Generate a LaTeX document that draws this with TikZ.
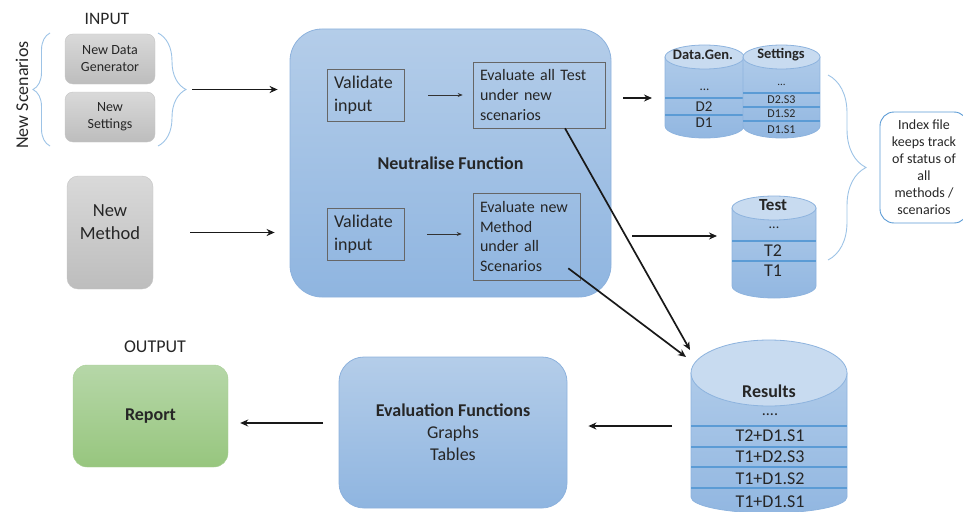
\documentclass[tikz,border=0pt]{standalone}
\usepackage{fontspec}
\setmainfont{Carlito}
\usetikzlibrary{arrows.meta,decorations.pathreplacing,calc}
\definecolor{txt}{HTML}{262626}
\definecolor{btop}{HTML}{B4CDE9}
\definecolor{bbot}{HTML}{8FB5E0}
\definecolor{bborder}{HTML}{8DB2DD}
\definecolor{gtop}{HTML}{D9D9D9}
\definecolor{gbot}{HTML}{BDBDBD}
\definecolor{gborder}{HTML}{C4C4C4}
\definecolor{rtop}{HTML}{B6D7A8}
\definecolor{rbot}{HTML}{97C67E}
\definecolor{rborder}{HTML}{A8CF95}
\definecolor{ctop}{HTML}{AECAE9}
\definecolor{cbot}{HTML}{92B7E1}
\definecolor{cend}{HTML}{C8DBF0}
\definecolor{cborder}{HTML}{8DB3DE}
\definecolor{cline}{HTML}{5B9BD5}
\definecolor{bracec}{HTML}{9DC3E6}
\definecolor{ixb}{HTML}{5B9BD5}
\newcommand\fs[2]{\fontsize{#1}{#2}\selectfont}
\newcommand\dbcyl[7]{%
  \pgfmathsetmacro\cyA{(#2+#3)/2}%
  \pgfmathsetmacro\cyR{(#3-#2)/2}%
  \pgfmathsetmacro\cyK{0.5523*\cyR}%
  \pgfmathsetmacro\cyL{0.5523*#7}%
  \path[cylbody] (#2,#4) -- (#2,#5) .. controls (#2,#5+\cyL) and (\cyA-\cyK,#5+#7) .. (\cyA,#5+#7) .. controls (\cyA+\cyK,#5+#7) and (#3,#5+\cyL) .. (#3,#5) -- (#3,#4) -- cycle;
  \path[cyltop] (\cyA,#4) ellipse [x radius=\cyR pt, y radius=#6pt];
  \coordinate (#1) at (\cyA,#4);
}
\tikzset{
  lbl/.style={text=txt, font=\fs{17.5}{21}},
  gbox/.style={draw=gborder, top color=gtop, bottom color=gbot, rounded corners=8pt, text=txt, align=center},
  bbox/.style={draw=bborder, line width=0.8pt, top color=btop, bottom color=bbot, rounded corners=32pt, text=txt, align=center},
  rbox/.style={draw=rborder, top color=rtop, bottom color=rbot, rounded corners=14pt, text=txt, font=\bfseries\fs{18}{22}},
  ibox/.style={draw=black!60, line width=0.6pt, align=left, inner sep=0pt, inner xsep=7pt, text=txt},
  arr/.style={draw=black!90, line width=1.7pt, -{Stealth[length=8pt,width=7pt]}},
  sarr/.style={draw=black!80, line width=0.6pt, -{Stealth[length=5pt,width=4pt]}},
  brc/.style={draw=bracec, line width=0.9pt, decorate, decoration={brace, amplitude=#1}},
  cylbody/.style={draw=cborder, line width=0.8pt, top color=ctop, bottom color=cbot},
  cyltop/.style={draw=cborder, line width=0.8pt, fill=cend},
  cylline/.style={draw=cline, line width=1.1pt},
  ctxt/.style={text=txt, inner sep=0pt},
}
\begin{document}
\begin{tikzpicture}[x=1pt,y=-1pt]
\useasboundingbox (0,0) rectangle (963,511);
\clip (0,0) rectangle (963,511);
% ---------- inputs
\node[lbl] (inlbl) at (107,19) {INPUT};
\node[lbl, rotate=90, font=\fs{18}{21}] (nsc) at (22,95) {New Scenarios};
\node[gbox, minimum width=90pt, minimum height=50pt, font=\fs{14}{17}] (ndg) at (110,59) {New Data\\Generator};
\node[gbox, minimum width=90pt, minimum height=50pt, font=\fs{14}{17}] (nst) at (110,117) {New\\Settings};
\draw[brc=17] (50,146) -- (50,33);
\draw[brc=28] (158,33) -- (158,146);
\coordinate (inbr) at (186,89.5);
\node[gbox, rounded corners=11pt, minimum width=86pt, minimum height=113pt] (nm) at (110,232.5) {};
\node[text=txt, align=center, font=\fs{18.5}{22.5}] (nmt) at (110,222) {New\\Method};
% ---------- neutralise
\node[bbox, minimum width=321pt, minimum height=268pt, font=\bfseries\fs{18}{21}] (neu) at (450.5,163) {Neutralise Function};
\node[ibox, text width=63pt, minimum width=77pt, minimum height=52pt, font=\fs{18}{23}] (v1) at (365.5,95) {Validate\\input};
\node[ibox, text width=118pt, minimum width=132pt, minimum height=66pt, font=\fs{16}{19.7}] (e1) at (539,95) {Evaluate all Test\\under new\\scenarios};
\node[ibox, text width=63pt, minimum width=77pt, minimum height=52pt, font=\fs{18}{23}] (v2) at (365.5,234) {Validate\\input};
\node[ibox, text width=93pt, minimum width=107pt, minimum height=87pt, font=\fs{16}{19.4}] (e2) at (526.5,236.5) {Evaluate new\\Method\\under all\\Scenarios};
\draw[sarr, shorten <=24pt, shorten >=10pt] (v1.east) -- (v1.east -| e1.west);
\draw[sarr, shorten <=23pt, shorten >=11pt] (v2.east) -- (v2.east -| e2.west);
% ---------- data stores
\dbcyl{dg}{665}{744}{57}{126}{12}{12}
\draw[cylline] (665,98) -- (744,98);
\draw[cylline] (665,115) -- (744,115);
\node[ctxt, font=\bfseries\fs{14.5}{16}] (dgt) at (703,55) {Data.Gen.};
\node[ctxt, font=\fs{13}{15}] (dg0) at (704.5,90) {...};
\node[ctxt, font=\fs{15}{17}] (dg2) at (704,107) {D2};
\node[ctxt, font=\fs{15}{17}] (dg1) at (704,123) {D1};
\dbcyl{st}{743}{820}{57}{126}{12}{12}
\draw[cylline] (743,93) -- (820,93);
\draw[cylline] (743,107) -- (820,107);
\draw[cylline] (743,121) -- (820,121);
\node[ctxt, font=\bfseries\fs{14.5}{16}] (stt) at (781,55) {Settings};
\node[ctxt, font=\fs{11}{13}] (st0) at (781.5,85) {...};
\node[ctxt, font=\fs{12}{14}] (st3) at (781.5,100) {D2.S3};
\node[ctxt, font=\fs{12}{14}] (st2) at (781.5,114) {D1.S2};
\node[ctxt, font=\fs{12}{14}] (st1) at (781.5,130) {D1.S1};
\dbcyl{ts}{732}{816}{208}{286}{12}{12}
\draw[cylline] (732,241) -- (816,241);
\draw[cylline] (732,261) -- (816,261);
\node[ctxt, font=\bfseries\fs{17}{19}] (tst) at (773,205) {Test};
\node[ctxt, font=\fs{14}{16}] (ts0) at (774,228) {...};
\node[ctxt, font=\fs{18}{20}] (ts2) at (773,251) {T2};
\node[ctxt, font=\fs{18}{20}] (ts1) at (773,271) {T1};
\dbcyl{rs}{691}{847}{373}{497}{33}{16}
\draw[cylline] (691,426) -- (847,426);
\draw[cylline] (691,447) -- (847,447);
\draw[cylline] (691,467) -- (847,467);
\draw[cylline] (691,488) -- (847,488);
\node[ctxt, font=\bfseries\fs{18}{20}] (rst) at (769,391) {Results};
\node[ctxt, font=\fs{16}{18}] (rs0) at (770,415) {....};
\node[ctxt, font=\fs{18}{20}] (rs4) at (770,436) {T2+D1.S1};
\node[ctxt, font=\fs{18}{20}] (rs3) at (770,457) {T1+D2.S3};
\node[ctxt, font=\fs{18}{20}] (rs2) at (770,479) {T1+D1.S2};
\node[ctxt, font=\fs{18}{20}] (rs1) at (770,502) {T1+D1.S1};
% ---------- index
\draw[brc=38] (828,75) -- (828,260);
\node[draw=ixb, line width=0.9pt, fill=white, rounded corners=14pt, minimum width=88pt, minimum height=111pt, align=center, text=txt, font=\fs{14}{17}] (idx) at (924,167.5) {Index file\\keeps track\\of status of\\all\\methods /\\scenarios};
% ---------- evaluation and output
\node[bbox, rounded corners=25pt, minimum width=228pt, minimum height=151pt, font=\fs{18}{22}] (ev) at (453,432.5) {{\bfseries\fs{18}{22}Evaluation Functions}\\Graphs\\Tables};
\node[rbox, minimum width=155pt, minimum height=102pt] (rep) at (150.5,416) {Report};
\node[lbl, font=\fs{18}{21}] (outlbl) at (155,347) {OUTPUT};
% ---------- connectors
\draw[arr, shorten <=6pt, shorten >=12pt] (inbr) -- (inbr -| neu.west);
\draw[arr, shorten <=37pt, shorten >=15pt] (nm.east) -- (nm.east -| neu.west);
\coordinate (dgin) at (665,98);
\draw[arr, shorten <=12pt, shorten >=13pt] (neu.east |- dgin) -- (dgin);
\coordinate (tsin) at (732,236);
\draw[arr, shorten <=21pt, shorten >=15pt] (neu.east |- tsin) -- (tsin);
\coordinate (r1) at (690,350);
\coordinate (r2) at (686,357);
\coordinate (e1o) at ($(e1.south)+(26,0)$);
\coordinate (e2o) at ($(e2.south east)+(-12,-12)$);
\draw[arr] (e1o) -- (r1);
\draw[arr] (e2o) -- (r2);
\coordinate (rsin) at (691,426);
\draw[arr, shorten <=19pt, shorten >=21pt] (rsin) -- (rsin -| ev.east);
\coordinate (evo) at (339,423);
\draw[arr, shorten <=16pt, shorten >=12pt] (evo) -- (evo -| rep.east);
\end{tikzpicture}
\end{document}
